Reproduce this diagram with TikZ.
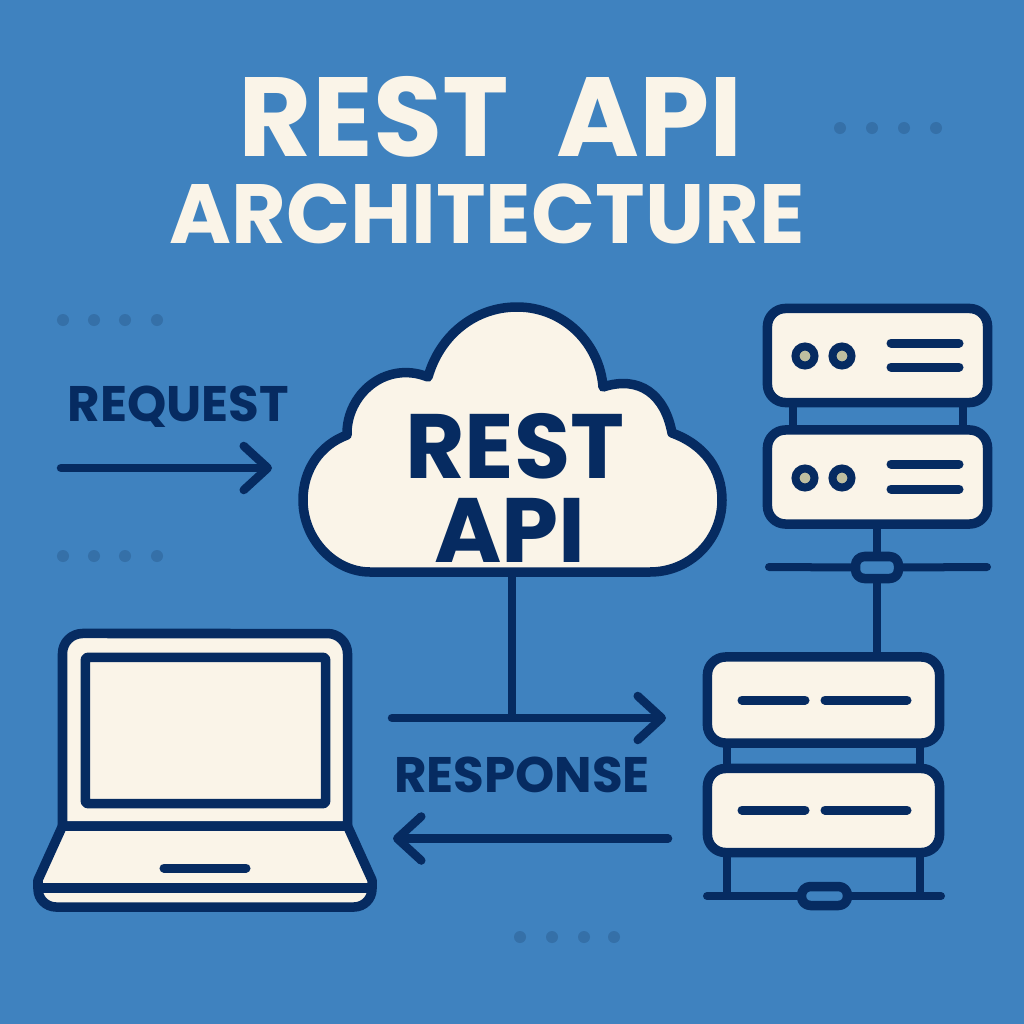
\documentclass[tikz,border=0pt]{standalone}
\usepackage{fontspec}
\setmainfont{Poppins}
\usetikzlibrary{arrows.meta}
\definecolor{bgblue}{HTML}{3F82BF}
\definecolor{navy}{HTML}{062B61}
\definecolor{cream}{HTML}{FAF4E8}
\definecolor{dotblue}{HTML}{3570A8}
\definecolor{led}{HTML}{BFBFA0}
\begin{document}
\begin{tikzpicture}[x=0.01cm, y=-0.01cm,
	shape line/.style={draw=navy, line width=0.095cm, line join=round},
	box/.style={shape line, fill=cream, rectangle, rounded corners=0.18cm, outer sep=0pt, inner sep=0pt},
	srv a/.style={box, minimum width=2.2cm, minimum height=0.94cm},
	srv b/.style={box, minimum width=2.32cm, minimum height=0.86cm},
	clip box/.style={shape line, fill=bgblue, rectangle, rounded corners=0.09cm, outer sep=0pt, inner sep=0pt},
	wire/.style={draw=navy, line width=0.08cm},
	bar/.style={draw=navy, line width=0.08cm, line cap=round},
	stripe/.style={draw=navy, line width=0.09cm, line cap=round},
	flow/.style={draw=navy, line width=0.085cm, line cap=round, -{Straight Barb[length=0.24cm, width=0.44cm, round]}},
	led ring/.style={circle, draw=navy, line width=0.08cm, fill=led, minimum size=0.19cm, inner sep=0pt},
	deco/.style={circle, fill=dotblue, minimum size=0.12cm, inner sep=0pt},
	title/.style={text=cream, font=\bfseries\fontsize{#1}{#1}\selectfont, inner sep=0pt},
	tag/.style={text=navy, font=\bfseries\fontsize{#1}{#1}\selectfont, inner sep=0pt}]
	\fill[bgblue] (0,0) rectangle (1024,1024);
	\useasboundingbox (0,0) rectangle (1024,1024);

	% title
	\node[title=32pt] (head) at (491,117) {REST\ \ API};
	\node[title=23.9pt] (subhead) at (487,214) {ARCHITECTURE};

	% background dots
	\foreach \i/\x in {1/840,2/872,3/904,4/936} \node[deco] (dota\i) at (\x,128) {};
	\foreach \i/\x in {1/63,2/94,3/125,4/157} {
		\node[deco] (dotb\i) at (\x,320) {};
		\node[deco] (dotc\i) at (\x,556) {};
	}
	\foreach \i/\x in {1/520,2/552,3/584,4/614} \node[deco] (dotd\i) at (\x,937) {};

	% cloud
	\coordinate (cloudfoot) at (512,572);
	\draw[shape line, fill=cream] (370,572)
		.. controls (335,572) and (303,540) .. (303,500)
		.. controls (303,470) and (320,445) .. (347,435)
		.. controls (346,395) and (385,360) .. (428,377)
		.. controls (440,335) and (475,307) .. (517,307)
		.. controls (565,307) and (600,345) .. (603,387)
		.. controls (640,375) and (665,395) .. (672,433)
		.. controls (705,445) and (722,470) .. (722,500)
		.. controls (722,540) and (690,572) .. (650,572) -- cycle;
	\node[tag=26pt] (cloudrest) at (515,446) {REST};
	\node[tag=26pt] (cloudapi) at (510,530) {API};

	% labels and arrows
	\node[tag=14.2pt] (request) at (178.5,407) {REQUEST};
	\node[tag=14.2pt] (response) at (522,775) {RESPONSE};
	\coordinate (reqstart) at (61,468);
	\coordinate (reqend) at (272,468);
	\coordinate (respstart) at (392,718);
	\coordinate (respend) at (666,718);
	\coordinate (respjoin) at (512,718);
	\coordinate (backstart) at (668,838.5);
	\coordinate (backend) at (393,838.5);
	\draw[flow] (reqstart) -- (reqend);
	\draw[flow] (respstart) -- (respend);
	\draw[flow] (backstart) -- (backend);
	\draw[wire] (cloudfoot) -- (respjoin);

	% upper servers
	\node[srv a] (srv1) at (877.5,355.5) {};
	\node[srv a] (srv2) at (877.5,477) {};
	\draw[wire] (793,402) -- (793,431);
	\draw[wire] (963,402) -- (963,431);
	\foreach \n/\y in {a/356,b/478} {
		\node[led ring] (led\n1) at (805,\y) {};
		\node[led ring] (led\n2) at (842,\y) {};
	}
	\draw[stripe] (891,343) -- (959,343);
	\draw[stripe] (891,367) -- (959,367);
	\draw[stripe] (891,464) -- (959,464);
	\draw[stripe] (891,489) -- (959,489);

	% upper bus
	\coordinate (busleft) at (769,567);
	\coordinate (busright) at (987,567);
	\node[clip box, minimum width=0.43cm, minimum height=0.22cm] (clip1) at (877,567.5) {};
	\draw[bar] (busleft) -- (clip1.west);
	\draw[bar] (clip1.east) -- (busright);

	% lower servers
	\node[srv b] (srv3) at (823.5,700) {};
	\node[srv b, minimum height=0.84cm] (srv4) at (823.5,810.5) {};
	\draw[wire] (srv2.south -| clip1) -- (clip1.north);
	\draw[wire] (clip1.south) -- (srv3.north -| clip1);
	\draw[wire] (727,743) -- (727,769);
	\draw[wire] (920,743) -- (920,769);
	\draw[stripe] (742,700) -- (805,700);
	\draw[stripe] (825,700) -- (907,700);
	\draw[stripe] (742,810) -- (805,810);
	\draw[stripe] (825,810) -- (907,810);

	% lower bus
	\coordinate (footleft) at (707,896);
	\coordinate (footright) at (941,896);
	\draw[wire] (727,852) -- (727,896);
	\draw[wire] (920,852) -- (920,896);
	\node[clip box, minimum width=0.46cm, minimum height=0.19cm] (clip2) at (824.5,896) {};
	\draw[bar] (footleft) -- (clip2.west);
	\draw[bar] (clip2.east) -- (footright);

	% laptop
	\draw[shape line, fill=cream] (62.5,826) -- (62.5,653.5) arc[start angle=180, end angle=90, radius=0.2cm] -- (327.5,633.5) arc[start angle=90, end angle=0, radius=0.2cm] -- (347.5,826) -- cycle;
	\node[shape line, fill=cream, rectangle, rounded corners=0.02cm, outer sep=0pt, minimum width=2.4cm, minimum height=1.46cm] (screen) at (205.5,730.5) {};
	\draw[shape line, fill=cream, rounded corners=0.18cm] (38,880) [sharp corners] -- (62.5,826) -- (347.5,826) -- (372,880) [rounded corners=0.18cm] -- (372,907) -- (38,907) [sharp corners] -- cycle;
	\draw[shape line] (38,888) -- (372,888);
	\draw[stripe] (164,868) -- (246,868);
\end{tikzpicture}
\end{document}
